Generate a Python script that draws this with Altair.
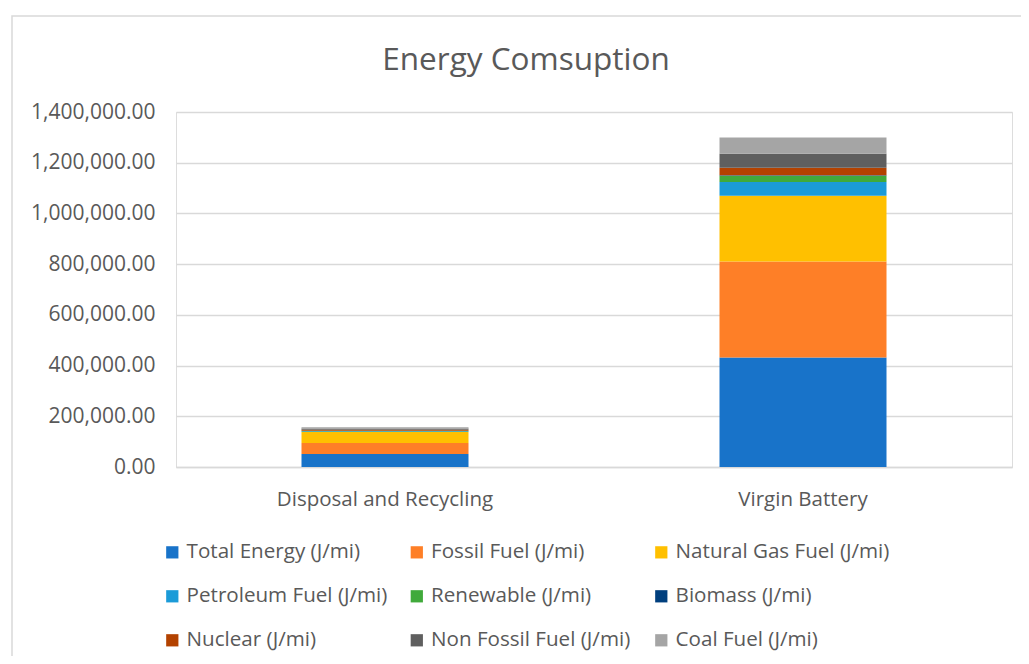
import altair as alt
import pandas as pd

categories = ["Disposal and Recycling", "Virgin Battery"]
series = [
    "Total Energy (J/mi)", "Fossil Fuel (J/mi)", "Natural Gas Fuel (J/mi)",
    "Petroleum Fuel (J/mi)", "Renewable (J/mi)", "Biomass (J/mi)",
    "Nuclear (J/mi)", "Non Fossil Fuel (J/mi)", "Coal Fuel (J/mi)",
]
disposal_values = [51000, 44000, 43000, 3000, 1500, 200, 4000, 5500, 5000]
virgin_values = [432000, 378000, 260000, 54000, 25000, 1500, 30000, 55000, 64000]
colors = ["#1873C9", "#FE7F27", "#FFC000", "#1B9BD8", "#40AA3B",
          "#003F7E", "#B34200", "#5F5F5F", "#A5A5A5"]

rows = []
for i, s in enumerate(series):
    rows.append({"cat": categories[0], "series": s, "idx": i, "value": disposal_values[i]})
    rows.append({"cat": categories[1], "series": s, "idx": i, "value": virgin_values[i]})
df = pd.DataFrame(rows)

FONT = "Open Sans"
GRAY = "#595959"

bars = alt.Chart(df).mark_bar(size=167).encode(
    x=alt.X("cat:N", sort=categories, title=None,
            scale=alt.Scale(paddingInner=0.6, paddingOuter=0.3),
            axis=alt.Axis(labelAngle=0, labelFontSize=20.5, labelColor=GRAY,
                          labelFont=FONT, ticks=False, domainColor="#d9d9d9",
                          domainWidth=1.5, labelPadding=22, labelLimit=400)),
    y=alt.Y("value:Q", title=None, stack="zero",
            scale=alt.Scale(domain=[0, 1400000]),
            axis=alt.Axis(values=[0, 200000, 400000, 600000, 800000, 1000000, 1200000, 1400000],
                          format=",.2f", labelFontSize=21, labelColor=GRAY,
                          labelFont=FONT, ticks=False, domain=False,
                          gridColor="#d9d9d9", gridWidth=1.5, labelPadding=21)),
    color=alt.Color("series:N", sort=series,
                    scale=alt.Scale(domain=series, range=colors),
                    legend=alt.Legend(orient="none", legendX=-14, legendY=430,
                                      direction="horizontal", columns=3,
                                      title=None, symbolType="square",
                                      symbolSize=150, symbolStrokeWidth=0,
                                      labelFontSize=20.6, labelColor=GRAY,
                                      labelFont=FONT, rowPadding=23,
                                      columnPadding=5.5, gridAlign="all",
                                      labelLimit=400)),
    order=alt.Order("idx:Q", sort="ascending"),
)

border = alt.Chart(pd.DataFrame({"a": [0]})).mark_rect(
    fillOpacity=0, stroke="#d9d9d9", strokeWidth=1.5
).encode(x=alt.value(-164), x2=alt.value(860), y=alt.value(-96), y2=alt.value(560))

chart = alt.layer(border, bars).properties(
    width=836, height=355,
    padding={"left": 168, "top": 104, "right": 9, "bottom": 189},
    autosize=alt.AutoSizeParams(type="none"),
    title=alt.TitleParams("Energy Comsuption", fontSize=31.5, font=FONT,
                          color=GRAY, fontWeight="normal", anchor="middle",
                          frame="group", dx=-68, offset=-61),
).configure_view(stroke=None).configure(background="white")

chart.save("out.html", embed_options={"renderer": "svg", "actions": False})
